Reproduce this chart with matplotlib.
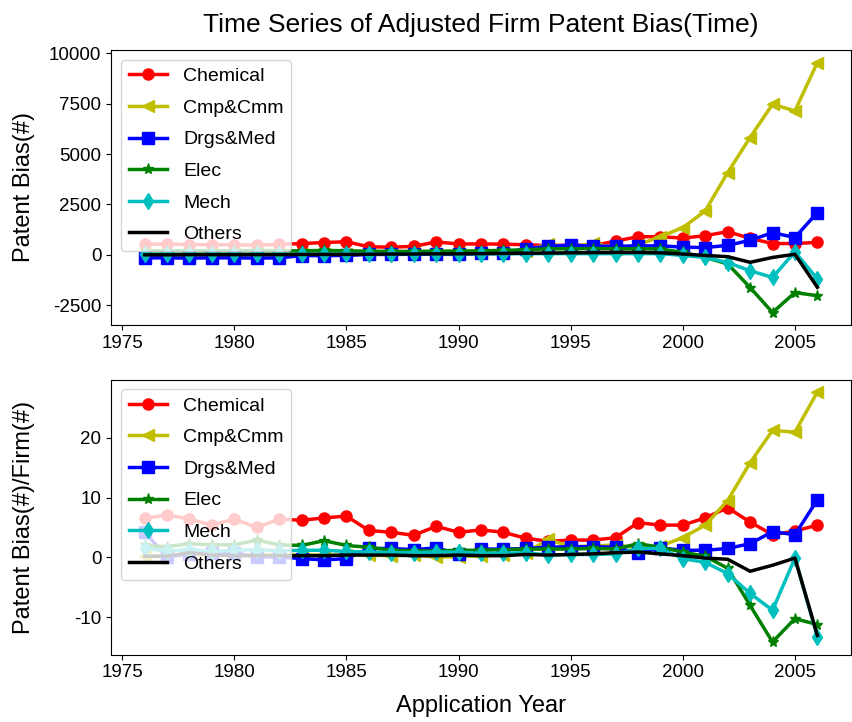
import matplotlib
matplotlib.use("Agg")
import matplotlib.pyplot as plt
from matplotlib.ticker import MultipleLocator

plt.rcParams['font.family'] = ['Liberation Sans', 'DejaVu Sans']
plt.rcParams['axes.unicode_minus'] = False

years = list(range(1976, 2007))

# Adjusted patent bias counts by technology category
bias_chemical = [530, 530, 510, 500, 500, 480, 520, 560, 610, 650, 400, 380, 420, 640, 540,
                 540, 530, 500, 460, 480, 460, 680, 900, 900, 830, 950, 1150, 820, 560, 560, 620]
bias_cmpcmm = [20, 10, 10, 20, 20, 30, 30, 40, 40, 50, 60, 60, 70, 60, 70,
               80, 100, 200, 550, 350, 600, 300, 500, 900, 1350, 2180, 4080, 5820, 7470, 7140, 9540]
bias_drgsmed = [-150, -150, -160, -150, -150, -160, -150, -40, -40, -30, 20, 20, 30, 30, 20,
                80, 100, 300, 420, 480, 430, 430, 440, 450, 380, 360, 470, 720, 1100, 860, 2100]
bias_elec = [200, 200, 210, 200, 200, 220, 200, 200, 220, 200, 180, 170, 170, 180, 190,
             200, 220, 250, 300, 300, 310, 300, 300, 290, 120, -130, -450, -1620, -2860, -1870, -2030]
bias_mech = [30, 30, 20, 30, 30, 20, 30, 30, 40, 40, 50, 40, 50, 50, 50,
             50, 50, 60, 60, 60, 60, 60, 60, 60, -30, -130, -380, -790, -1120, 150, -1200]
bias_others = [0, 0, 10, 10, 10, 10, 10, 20, 20, 20, 30, 40, 40, 50, 50,
               60, 70, 80, 90, 100, 110, 120, 120, 100, 40, -30, -90, -370, -130, 30, -1610]

# Adjusted patent bias per firm
perfirm_chemical = [6.5, 7.1, 6.4, 5.4, 6.4, 5.0, 6.4, 6.2, 6.6, 6.9, 4.5, 4.2, 3.7, 5.2, 4.2,
                    4.6, 4.2, 3.2, 2.7, 2.9, 2.9, 3.3, 5.8, 5.4, 5.4, 6.6, 8.3, 5.9, 3.8, 4.4, 5.4]
perfirm_cmpcmm = [0.3, 0.3, 0.4, 0.4, 0.4, 0.5, 0.4, 0.4, 0.4, 0.4, 0.4, 0.3, 0.4, 0.1, 0.1,
                  0.3, 0.4, 0.8, 3.0, 1.8, 1.9, 2.1, 1.6, 1.9, 3.3, 5.4, 9.5, 15.8, 21.2, 20.9, 27.6]
perfirm_drgsmed = [4.2, 0.1, 0.6, 0.8, 0.8, 0.1, 0.1, -0.2, -0.4, -0.2, 1.5, 1.5, 1.3, 1.6, 0.6,
                   1.4, 1.4, 1.5, 1.7, 1.8, 1.8, 1.7, 0.7, 1.6, 1.2, 1.2, 1.5, 2.3, 4.3, 3.8, 9.6]
perfirm_elec = [2.0, 1.8, 2.3, 2.1, 2.1, 2.9, 2.1, 2.0, 2.8, 2.0, 1.7, 1.2, 1.1, 1.1, 1.2,
                1.2, 1.3, 1.4, 1.4, 1.4, 1.5, 1.4, 2.3, 1.7, 0.9, 0.2, -1.8, -8.0, -14.1, -10.2, -11.2]
perfirm_mech = [1.5, 1.1, 1.3, 1.0, 1.2, 1.3, 1.1, 1.2, 1.2, 1.0, 0.9, 0.8, 0.8, 0.9, 0.9,
                0.7, 0.7, 0.8, 0.4, 0.5, 0.5, 0.6, 1.5, 1.5, -0.2, -0.8, -2.7, -6.0, -8.8, -0.1, -13.2]
perfirm_others = [0.2, 0.2, 0.8, 0.4, 0.3, 0.3, 0.3, 0.3, 0.3, 0.4, 0.4, 0.4, 0.3, 0.3, 0.4,
                  0.3, 0.3, 0.5, 0.4, 0.5, 0.6, 0.8, 0.9, 0.6, 0.3, -0.1, -0.3, -2.3, -1.3, -0.1, -13.0]

categories = ["Chemical", "Cmp&Cmm", "Drgs&Med", "Elec", "Mech", "Others"]
styles = [("r", "o"), ("y", "<"), ("b", "s"), ("g", "*"), ("c", "d"), ("k", None)]

top_series = [bias_chemical, bias_cmpcmm, bias_drgsmed, bias_elec, bias_mech, bias_others]
bottom_series = [perfirm_chemical, perfirm_cmpcmm, perfirm_drgsmed, perfirm_elec,
                 perfirm_mech, perfirm_others]

W, H = 852, 722
fig = plt.figure(figsize=(W / 100, H / 100), dpi=100)
ax1 = fig.add_axes([111 / W, (H - 325) / H, 740 / W, 275 / H])
ax2 = fig.add_axes([111 / W, (H - 654.5) / H, 740 / W, 275 / H])

for ax, series in ((ax1, top_series), (ax2, bottom_series)):
    for name, vals, (col, mk) in zip(categories, series, styles):
        ax.plot(years, vals, color=col, marker=mk, markersize=8, linewidth=2.5, label=name)
    ax.legend(loc="upper left", fontsize=14, labelspacing=0.72)
    ax.tick_params(labelsize=13.5)

ax1.yaxis.set_major_locator(MultipleLocator(2500))

ax1.set_title("Time Series of Adjusted Firm Patent Bias(Time)", fontsize=19, pad=13)
ax1.set_ylabel("Patent Bias(#)", fontsize=17)
ax2.set_ylabel("Patent Bias(#)/Firm(#)", fontsize=17)
ax2.set_xlabel("Application Year", fontsize=17, labelpad=10)
for ax in (ax1, ax2):
    ax.yaxis.set_label_coords(-0.103, 0.5)

fig.savefig("out.png", dpi=100)
